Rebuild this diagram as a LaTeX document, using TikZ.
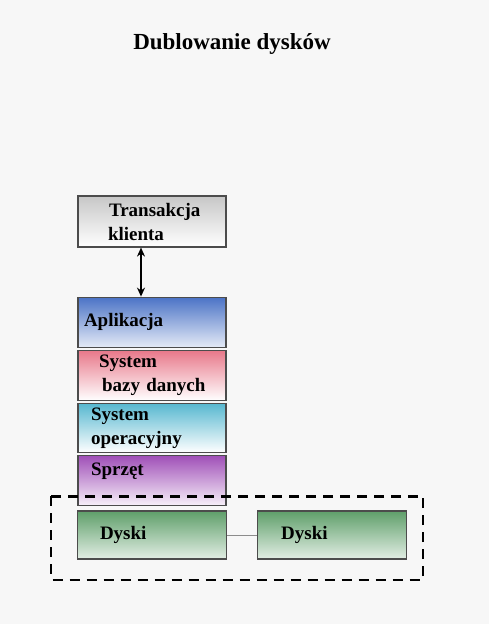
\documentclass[tikz,border=0pt]{standalone}
\usepackage{fontspec}
\setmainfont{Liberation Serif}
\usetikzlibrary{positioning,arrows.meta}
\tikzstyle{layer} = [rectangle,draw=black!70,line width=1.2pt,minimum width=148pt,minimum height=50pt,text width=136pt,align=left,inner sep=0pt,font=\fontsize{19}{24}\selectfont\bfseries]

\definecolor{appblue}{HTML}{4B73C6}
\definecolor{dbred}{HTML}{E8788A}
\definecolor{oscyan}{HTML}{58B8D0}
\definecolor{hwviolet}{HTML}{A050B8}
\definecolor{diskgreen}{HTML}{5F9F6A}

\begin{document}
\begin{tikzpicture}
		[
		title/.style={font=\fontsize{23}{27}\selectfont\bfseries},
		disk/.style={layer,minimum width=149pt,minimum height=48pt,top color=diskgreen,bottom color=diskgreen!18},
		mirror/.style={draw=black,line width=2.2pt,dash pattern=on 10pt off 7pt},
		link/.style={draw=black!45,line width=1pt}
		]
		\fill[black!3] (0,0) rectangle (489pt,-624pt);
		\useasboundingbox (0,0) rectangle (489pt,-624pt);
		\node[title] (heading) at (232pt,-44pt) {Dublowanie dysków};
		\node[layer,minimum height=51pt,top color=black!22,bottom color=white] (client) at (152pt,-221.5pt) {\hspace*{25pt}Transakcja\\\hspace*{24pt}klienta};
		\node[layer,below=49pt of client,top color=appblue,bottom color=appblue!15] (app) {Aplikacja};
		\node[layer,below=2pt of app,top color=dbred,bottom color=white] (dbms) {\hspace*{15pt}System\\\hspace*{18pt}bazy danych};
		\node[layer,below=2pt of dbms,minimum height=49pt,top color=oscyan,bottom color=white] (os) {\hspace*{7pt}System\\\hspace*{7pt}operacyjny};
		\node[layer,below=2pt of os,text depth=24pt,top color=hwviolet,bottom color=hwviolet!8] (hw) {\hspace*{7pt}Sprzęt};
		\node[disk,below=4pt of hw] (disk1) {\hspace*{16pt}Dyski};
		\node[disk,right=30pt of disk1] (disk2) {\hspace*{17pt}Dyski};
		\draw[{Stealth[length=9pt,width=8pt]}-{Stealth[length=9pt,width=8pt]},line width=1.4pt] ([xshift=-11pt]client.south) -- ([xshift=-11pt]app.north);
		\draw[link] (disk1) -- (disk2);
		\draw[mirror] ([shift={(-26pt,14pt)}]disk1.north west) rectangle ([shift={(16pt,-20pt)}]disk2.south east);
		\end{tikzpicture}
\end{document}
